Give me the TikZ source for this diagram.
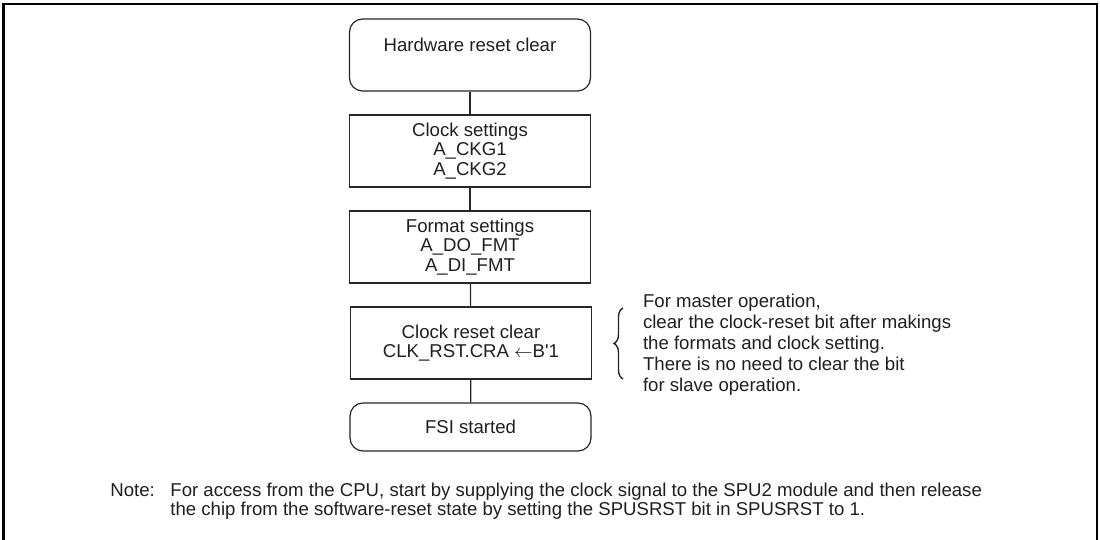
\documentclass[tikz,border=0pt]{standalone}
\usepackage{fontspec}
\newfontfamily\lsans{Liberation Sans}
\usetikzlibrary{decorations.pathreplacing}
\begin{document}
\begin{tikzpicture}[x=0.5pt,y=-0.5pt,
  every node/.style={font=\lsans\fontsize{9.3}{9.75}\selectfont, text=black!88},
  flowbox/.style={draw=black!85, line width=0.6pt, minimum width=120.5pt, minimum height=36pt, inner sep=0pt, align=center},
  termbox/.style={flowbox, rounded corners=6.5pt},
  notetext/.style={anchor=base west, inner sep=0pt},
  link/.style={draw=black!85, line width=0.6pt}]
\useasboundingbox (0,0) rectangle (1100,540);
\draw[line width=1.3pt] (3.5,560) -- (3.5,4) -- (1097,4) -- (1097,560);
\node[termbox] (hw) at (470,55) {Hardware reset clear\\\mbox{}};
\node[flowbox] (clk) at (470,151) {Clock settings\\A\_CKG1\\A\_CKG2};
\node[flowbox] (fmt) at (470,247) {Format settings\\A\_DO\_FMT\\A\_DI\_FMT};
\node[flowbox] (crst) at (471,343) {Clock reset clear\\CLK\_RST.CRA $\leftarrow$B'1};
\node[termbox, minimum height=24pt] (fsi) at (470.5,427) {FSI started};
\path[link] (hw) -- (clk);
\path[link] (clk) -- (fmt);
\path[link] (fmt) -- (crst);
\path[link] (crst) -- (fsi);
\coordinate (bb) at (623,379);
\coordinate (bt) at (623,308);
\draw[line width=0.7pt, draw=black!85, decorate, decoration={brace, amplitude=4.5pt}] (bb) -- (bt);
\node[anchor=west, align=left, font=\lsans\fontsize{9.3}{10.5}\selectfont] (cmt) at (636,345) {For master operation,\\clear the clock-reset bit after makings\\the formats and clock setting.\\There is no need to clear the bit\\for slave operation.};
\node[notetext] (notelbl) at (110,496) {Note:};
\node[notetext] (note1) at (170,496) {For access from the CPU, start by supplying the clock signal to the SPU2 module and then release};
\node[notetext] (note2) at (170,516) {the chip from the software-reset state by setting the SPUSRST bit in SPUSRST to 1.};
\end{tikzpicture}
\end{document}
